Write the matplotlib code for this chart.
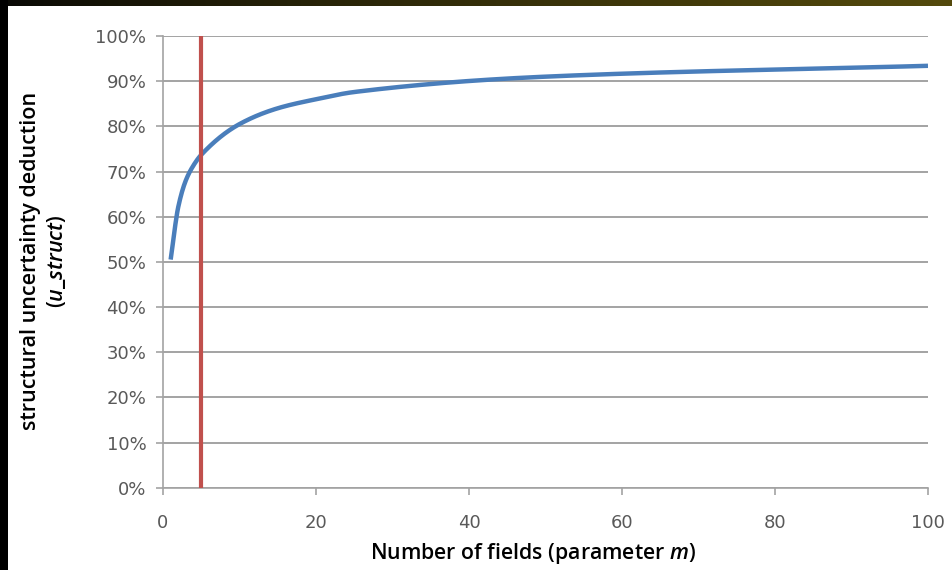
import numpy as np
import matplotlib
matplotlib.use("Agg")
import matplotlib.pyplot as plt
from matplotlib.patches import Rectangle
from matplotlib.ticker import PercentFormatter

# Number of fields m and the resulting structural uncertainty deduction
m_fields = [1, 2, 3, 4, 5, 10, 15, 20, 25, 50, 100]
u_struct = [0.505, 0.622, 0.681, 0.714, 0.737, 0.805, 0.840, 0.860, 0.876,
            0.910, 0.934]
m_marker = 5  # chosen number of fields (vertical reference line)

x_ticks = [0, 20, 40, 60, 80, 100]
y_ticks = [0, 0.1, 0.2, 0.3, 0.4, 0.5, 0.6, 0.7, 0.8, 0.9, 1.0]


def pchip(x, y, xs):
    """Monotone cubic interpolation used to draw a smoothed line."""
    x = np.asarray(x, float)
    y = np.asarray(y, float)
    h = np.diff(x)
    d = np.diff(y) / h
    n = len(x)
    s = np.zeros(n)
    for k in range(1, n - 1):
        if d[k - 1] * d[k] > 0:
            w1 = 2 * h[k] + h[k - 1]
            w2 = h[k] + 2 * h[k - 1]
            s[k] = (w1 + w2) / (w1 / d[k - 1] + w2 / d[k])
    s[0] = d[0]
    s[-1] = d[-1]
    idx = np.clip(np.searchsorted(x, xs) - 1, 0, n - 2)
    t = (xs - x[idx]) / h[idx]
    h00 = 2 * t**3 - 3 * t**2 + 1
    h10 = t**3 - 2 * t**2 + t
    h01 = -2 * t**3 + 3 * t**2
    h11 = t**3 - t**2
    return (h00 * y[idx] + h10 * h[idx] * s[idx]
            + h01 * y[idx + 1] + h11 * h[idx] * s[idx + 1])


plt.rcParams["font.family"] = ["Open Sans", "DejaVu Sans"]
plt.rcParams["mathtext.fontset"] = "custom"
plt.rcParams["mathtext.it"] = "Open Sans:italic:semibold"
plt.rcParams["mathtext.rm"] = "Open Sans:semibold"

W, H = 953, 570
fig = plt.figure(figsize=(W / 100, H / 100), dpi=100, facecolor="white")

# dark slide frame along the top and left edges
frame = fig.add_axes([0, 0, 1, 1], zorder=-10)
frame.set_axis_off()
frame.set_xlim(0, W)
frame.set_ylim(H, 0)
grad = np.linspace(0, 1, 256)
strip = np.zeros((1, 256, 3))
strip[0, :, 0] = 0.03 + 0.30 * grad ** 0.8
strip[0, :, 1] = 0.03 + 0.26 * grad ** 0.8
strip[0, :, 2] = 0.02 + 0.03 * grad
frame.imshow(strip, extent=(0, W, 6.5, 0), aspect="auto", interpolation="bicubic")
frame.add_patch(Rectangle((0, 0), 8, H, color="black", lw=0))

ax = fig.add_axes([163 / W, 1 - 487.7 / H, (928 - 163) / W, (487.7 - 36) / H])
ax.set_facecolor("white")

xs = np.linspace(min(m_fields), max(m_fields), 800)
ax.plot(xs, pchip(m_fields, u_struct, xs), color="#4A7EBB", lw=3.2,
        solid_capstyle="butt", zorder=4)
ax.plot([m_marker, m_marker], [0, 1], color="#C0504D", lw=3.0,
        solid_capstyle="butt", zorder=5)

ax.set_xlim(0, 100)
ax.set_ylim(0, 1)
ax.set_xticks(x_ticks)
ax.set_yticks(y_ticks)
ax.yaxis.set_major_formatter(PercentFormatter(1.0, decimals=0))
ax.grid(axis="y", color="#A3A3A3", lw=1.4, zorder=1)
ax.set_axisbelow(True)
for side in ("top", "right"):
    ax.spines[side].set_visible(False)
for side in ("left", "bottom"):
    ax.spines[side].set_color("#A3A3A3")
    ax.spines[side].set_linewidth(1.2)
ax.tick_params(axis="both", direction="out", length=5, width=1.2,
               color="#A3A3A3", labelcolor="#595959", labelsize=13)
ax.tick_params(axis="y", pad=7)
ax.tick_params(axis="x", pad=14)
for lab in ax.get_xticklabels() + ax.get_yticklabels():
    lab.set_family("DejaVu Sans")

fig.text(533 / W, 1 - 553 / H, r"Number of fields (parameter $m$)",
         ha="center", va="center", fontsize=15.3, fontweight="semibold",
         color="black")
fig.text(44 / W, 1 - 261 / H,
         "structural uncertainty deduction\n" + r"($u\_struct$)",
         ha="center", va="center", rotation=90, fontsize=15.5,
         fontweight="semibold", color="black", multialignment="center",
         linespacing=1.2)

fig.savefig("out.png", dpi=100, facecolor=fig.get_facecolor())
